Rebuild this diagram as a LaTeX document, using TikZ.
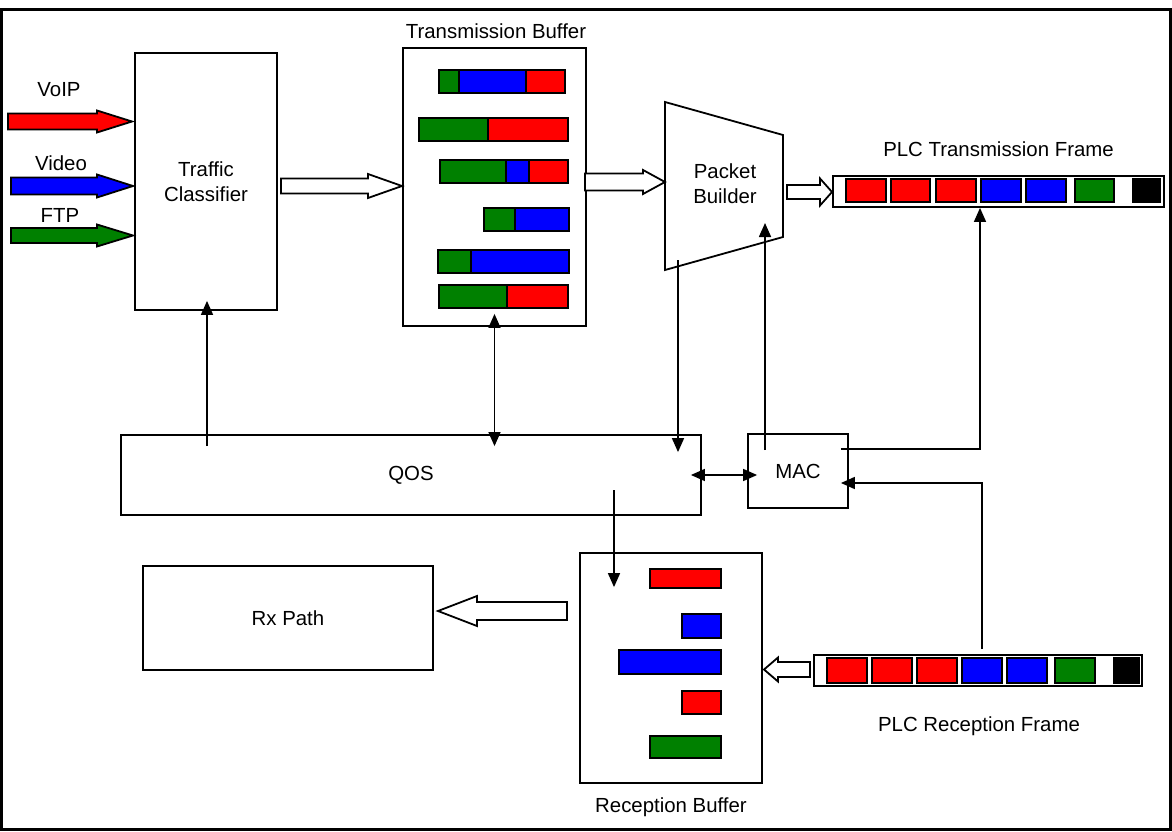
\documentclass[tikz,border=0pt]{standalone}
\usepackage{fontspec}
\setmainfont{Liberation Sans}
\usetikzlibrary{arrows.meta,calc}
\definecolor{cred}{RGB}{255,0,0}
\definecolor{cblue}{RGB}{0,0,255}
\definecolor{cgreen}{RGB}{0,128,0}
% #1 style, #2 tail x, #3 tip x, #4 centre y, #5 shaft half height, #6 head base x, #7 head half height
\newcommand\blockarr[7]{%
  \draw[#1] (#2,#4-#5) -- (#6,#4-#5) -- (#6,#4-#7) -- (#3,#4) -- (#6,#4+#7) -- (#6,#4+#5) -- (#2,#4+#5) -- cycle;}
\newcommand\cellbox[5]{\draw[cellst,fill=#1] (#2,#3) rectangle (#4,#5);}
\begin{document}
\begin{tikzpicture}[x=1pt,y=-1pt,font=\fontsize{20.4}{25}\selectfont,line join=miter,
  box/.style={draw,line width=1.8pt,inner sep=0pt},
  conn/.style={line width=1.6pt,-{Triangle[length=14pt,width=12pt]}},
  conn2/.style={line width=1.6pt,{Triangle[length=14pt,width=12pt]}-{Triangle[length=14pt,width=12pt]}},
  cellst/.style={draw,line width=1.6pt},
  hollow/.style={draw,fill=white,line width=1.8pt},
  txt/.style={anchor=base,inner sep=0pt}]
\useasboundingbox (0,0) rectangle (1172,832);
\draw[line width=3pt] (1.5,9.5) rectangle (1170.5,829);

% main blocks
\node[box,minimum width=142pt,minimum height=257pt,align=center] (tc) at (206,181.5) {Traffic\\Classifier};
\node[box,minimum width=183pt,minimum height=278pt] (tb) at (494.5,187) {};
\node[box,minimum width=580pt,minimum height=80pt] (qos) at (411,475) {QOS};
\node[box,minimum width=100pt,minimum height=74pt] (mac) at (798,471) {MAC};
\node[box,minimum width=290pt,minimum height=104pt] (rx) at (288,618) {Rx Path};
\node[box,minimum width=182pt,minimum height=230pt] (rb) at (671,668) {};
\node[box,minimum width=331pt,minimum height=31pt] (ptx) at (998.5,191.5) {};
\node[box,minimum width=328pt,minimum height=31pt] (prx) at (978,670.5) {};

% packet builder
\draw[line width=1.8pt] (665,102) -- (783,135) -- (783,237) -- (665,270) -- cycle;
\node[align=center,inner sep=0pt] (pb) at (725,183.5) {Packet\\Builder};

% labels
\node[txt] (lvoip) at (59,96.5) {VoIP};
\node[txt] (lvideo) at (61,170) {Video};
\node[txt] (lftp) at (60,222.5) {FTP};
\node[txt] (ltb) at (496,38.3) {Transmission Buffer};
\node[txt] (lptx) at (998.5,156) {PLC Transmission Frame};
\node[txt] (lrb) at (671,812.7) {Reception Buffer};
\node[txt] (lprx) at (979,731.7) {PLC Reception Frame};

% input arrows
\blockarr{hollow,fill=cred}{8}{132}{121.5}{8}{97}{11}
\blockarr{hollow,fill=cblue}{11}{133}{186}{8.5}{97}{11.5}
\blockarr{hollow,fill=cgreen}{11}{133}{235.5}{7.5}{97}{11}

% hollow block arrows
\blockarr{hollow}{281}{402}{186}{7.5}{368}{12}
\blockarr{hollow}{585}{665}{182}{8.5}{643}{12}
\blockarr{hollow}{787}{832}{192}{7}{820}{13.5}
\blockarr{hollow}{810}{764}{669.5}{7.5}{778}{12}
\blockarr{hollow}{567}{438}{611}{9}{477}{15}

% transmission buffer contents
\cellbox{cgreen}{439}{70}{459}{93}\cellbox{cblue}{459}{70}{526}{93}\cellbox{cred}{526}{70}{565}{93}
\cellbox{cgreen}{419}{118}{488}{141}\cellbox{cred}{488}{118}{568}{141}
\cellbox{cgreen}{440}{160}{506}{183}\cellbox{cblue}{506}{160}{529}{183}\cellbox{cred}{529}{160}{568}{183}
\cellbox{cgreen}{484}{208}{515}{231}\cellbox{cblue}{515}{208}{569}{231}
\cellbox{cgreen}{438}{250}{471}{273}\cellbox{cblue}{471}{250}{569}{273}
\cellbox{cgreen}{439}{285}{507}{308}\cellbox{cred}{507}{285}{568}{308}

% reception buffer contents
\cellbox{cred}{650}{569}{721}{588}
\cellbox{cblue}{682}{614}{721}{638}
\cellbox{cblue}{619}{650}{721}{674}
\cellbox{cred}{682}{691}{721}{714}
\cellbox{cgreen}{650}{736}{721}{758}

% PLC transmission frame
\cellbox{cred}{846}{179}{886}{202}\cellbox{cred}{891}{179}{930}{202}\cellbox{cred}{936}{179}{976}{202}
\cellbox{cblue}{981}{179}{1021}{202}\cellbox{cblue}{1026}{179}{1066}{202}
\cellbox{cgreen}{1075}{179}{1114}{202}\cellbox{black}{1133}{179}{1160}{202}

% PLC reception frame
\cellbox{cred}{827}{658}{867}{683}\cellbox{cred}{872}{658}{912}{683}\cellbox{cred}{917}{658}{957}{683}
\cellbox{cblue}{962}{658}{1002}{683}\cellbox{cblue}{1007}{658}{1047}{683}
\cellbox{cgreen}{1055}{658}{1095}{683}\cellbox{black}{1114}{658}{1139}{683}

% connectors
\coordinate (pbl) at (678,260);
\coordinate (pbr) at (765,223);
\coordinate (qrb) at (614,490);
\draw[conn] ($(qos.north -| tc.south)+(1,12)$) -- ($(tc.south)+(1,-10)$);
\draw[conn2] ($(tb.south)+(0,-13)$) -- ($(tb.south |- qos.north)+(0,12)$);
\draw[conn] (pbl) -- ($(pbl |- qos.north)+(0,18)$);
\draw[conn] ($(pbr |- mac.north)+(0,17)$) -- (pbr);
\draw[conn2] ($(qos.east)+(-11,0)$) -- ($(mac.west |- qos.east)+(10,0)$);
\draw[conn] ($(mac.east)+(-8,-22)$) -| ($(ptx.south)+(-18.5,0)$);
\draw[conn] ($(prx.north)+(4,-5)$) |- ($(mac.east)+(-8,12)$);
\draw[conn] (qrb) -- ($(qrb |- rb.north)+(0,35)$);
\end{tikzpicture}
\end{document}
